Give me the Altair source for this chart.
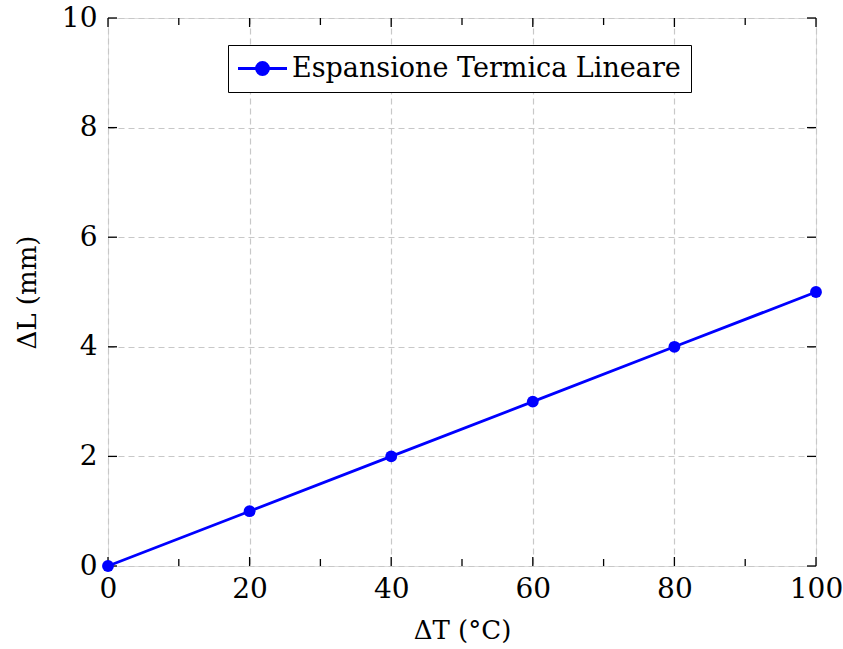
import altair as alt
import pandas as pd

# Data
delta_T = [0, 20, 40, 60, 80, 100]
delta_L = [0, 1, 2, 3, 4, 5]
series_name = "Espansione Termica Lineare"

x_major = [0, 20, 40, 60, 80, 100]
x_minor = [10, 30, 50, 70, 90]
y_major = [0, 2, 4, 6, 8, 10]

W, H = 708, 548
FONT = "DejaVu Serif"
FS = 28

df = pd.DataFrame({"dT": delta_T, "dL": delta_L, "s": [series_name] * len(delta_T)})
xs = alt.Scale(domain=[0, 100], nice=False, zero=False)
ys = alt.Scale(domain=[0, 10], nice=False, zero=False)

legend_symbol = "M-2.45,0 L2.45,0 M-0.6,0 A0.6,0.6 0 1,1 0.6,0 A0.6,0.6 0 1,1 -0.6,0 Z"

base = alt.Chart(df)
line = base.mark_line(strokeWidth=2.8, point=alt.OverlayMarkDef(size=140, filled=True, opacity=1)).encode(
    x=alt.X("dT:Q", scale=xs,
            axis=alt.Axis(values=x_major, title="ΔT (°C)", grid=True, gridDash=[6, 4], gridColor="#c8c8c8",
                          gridWidth=1.2, ticks=False, domain=False, labelPadding=9, titlePadding=14,
                          labelFont=FONT, labelFontSize=FS, labelColor="black", labelFontWeight="normal",
                          titleFont=FONT, titleFontSize=26, titleFontWeight="normal", titleColor="black",
                          labelFlush=False)),
    y=alt.Y("dL:Q", scale=ys,
            axis=alt.Axis(values=y_major, title="ΔL (mm)", grid=True, gridDash=[6, 4], gridColor="#c8c8c8",
                          gridWidth=1.2, ticks=False, domain=False, labelPadding=11, titlePadding=21,
                          labelFont=FONT, labelFontSize=FS, labelColor="black",
                          titleFont=FONT, titleFontSize=26, titleFontWeight="normal", titleColor="black",
                          labelFlush=False)),
    color=alt.Color("s:N", scale=alt.Scale(range=["#0000ff"]),
                    legend=alt.Legend(title=None, orient="none", legendX=120, legendY=27,
                                      direction="vertical", strokeColor="black", fillColor="white",
                                      padding=10, labelFont=FONT, labelFontSize=27, labelColor="black",
                                      labelLimit=700,
                                      symbolType=legend_symbol, symbolSize=400, symbolStrokeWidth=2.8,
                                      symbolFillColor="#0000ff", symbolStrokeColor="#0000ff",
                                      symbolOffset=11, labelOffset=16, cornerRadius=0)),
)

def ticks(vals, side, length):
    d = pd.DataFrame({"v": vals})
    c = alt.Chart(d).mark_rule(color="black", strokeWidth=1.3)
    if side == "bottom":
        return c.encode(x=alt.X("v:Q", scale=xs), y=alt.value(H), y2=alt.value(H - length))
    if side == "top":
        return c.encode(x=alt.X("v:Q", scale=xs), y=alt.value(0), y2=alt.value(length))
    if side == "left":
        return c.encode(y=alt.Y("v:Q", scale=ys), x=alt.value(0), x2=alt.value(length))
    return c.encode(y=alt.Y("v:Q", scale=ys), x=alt.value(W), x2=alt.value(W - length))

layers = [
    ticks(x_major, "bottom", 9), ticks(x_minor, "bottom", 7),
    ticks(x_major, "top", 9), ticks(x_minor, "top", 7),
    ticks(y_major, "left", 9), ticks(y_major, "right", 9),
    line,
]

chart = alt.layer(*layers).properties(
    width=W, height=H,
    autosize=alt.AutoSizeParams(type="none"),
    padding={"left": 108, "top": 18, "right": 843 - 108 - W, "bottom": 649 - 18 - H},
).configure_view(stroke="black", strokeWidth=2).configure(background="white")

chart.save("out.html", embed_options={"renderer": "svg", "actions": False})
